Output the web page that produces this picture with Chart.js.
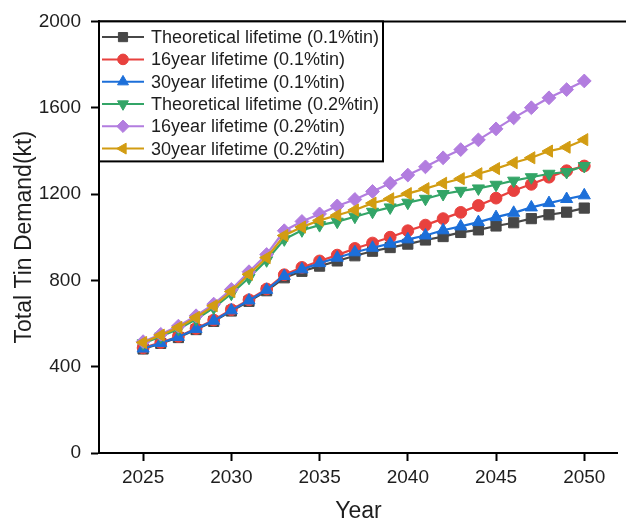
<!DOCTYPE html>
<html>
<head>
<meta charset="utf-8">
<title>Total Tin Demand</title>
<script src="https://cdn.jsdelivr.net/npm/chart.js@4.4.0/dist/chart.umd.min.js"></script>
<style>
  html, body { margin: 0; padding: 0; background: #ffffff; overflow: hidden; }
  #wrap { width: 626px; height: 519px; position: relative; }
</style>
</head>
<body>
<div id="wrap"><canvas id="chart" width="626" height="519"></canvas></div>
<script>
// Years on the horizontal axis
const years = [2025, 2026, 2027, 2028, 2029, 2030, 2031, 2032, 2033, 2034, 2035, 2036, 2037,
               2038, 2039, 2040, 2041, 2042, 2043, 2044, 2045, 2046, 2047, 2048, 2049, 2050];

// Axis tick labels
const xTickValues = [2025, 2030, 2035, 2040, 2045, 2050];
const yTickValues = [0, 400, 800, 1200, 1600, 2000];

// Total tin demand (kt), 0.1% tin content scenarios
const theoretical01 = [482, 508, 535, 572, 610, 658, 703, 752, 812, 842, 866, 890, 914,
                       935, 952, 968, 987, 1003, 1022, 1034, 1052, 1067, 1086, 1104, 1116, 1135];
const year16_01     = [487, 512, 540, 577, 616, 664, 710, 760, 826, 860, 890, 917, 948,
                       973, 1000, 1030, 1056, 1086, 1115, 1147, 1181, 1216, 1245, 1278, 1308, 1330];
const year30_01     = [484, 510, 538, 575, 613, 661, 707, 756, 820, 851, 880, 905, 930,
                       951, 970, 990, 1008, 1032, 1050, 1070, 1093, 1113, 1138, 1158, 1177, 1194];

// Total tin demand (kt), 0.2% tin content scenarios
const theoretical02 = [508, 540, 575, 620, 673, 738, 812, 893, 990, 1032, 1056, 1072, 1095,
                       1118, 1138, 1160, 1178, 1200, 1215, 1226, 1243, 1262, 1278, 1294, 1302, 1330];
const year16_02     = [516, 550, 588, 636, 690, 758, 840, 920, 1030, 1073, 1108, 1145, 1175,
                       1212, 1250, 1288, 1326, 1368, 1406, 1451, 1502, 1553, 1600, 1646, 1684, 1724];
const year30_02     = [512, 546, 582, 628, 682, 748, 828, 905, 1008, 1047, 1078, 1102, 1126,
                       1158, 1178, 1202, 1225, 1250, 1271, 1294, 1318, 1345, 1368, 1399, 1417, 1452];

const seriesNames = [
  'Theoretical lifetime (0.1%tin)',
  '16year lifetime (0.1%tin)',
  '30year lifetime (0.1%tin)',
  'Theoretical lifetime (0.2%tin)',
  '16year lifetime (0.2%tin)',
  '30year lifetime (0.2%tin)'
];

const FONT = '"Liberation Sans", Arial, Helvetica, sans-serif';
const TEXT = '#1e1e1e';

function toPoints(values) {
  return values.map((v, i) => ({ x: years[i], y: v }));
}

function makeSeries(idx, values, color, style, rotation, radius, order) {
  return {
    label: seriesNames[idx],
    data: toPoints(values),
    borderColor: color,
    backgroundColor: color,
    pointBackgroundColor: color,
    pointBorderColor: color,
    pointBorderWidth: 1,
    pointStyle: style,
    pointRotation: rotation,
    pointRadius: radius,
    borderWidth: 2.2,
    tension: 0,
    order: order
  };
}

const datasets = [
  makeSeries(0, theoretical01, '#474747', 'rect', 0, 7.2, 5),
  makeSeries(1, year16_01,     '#e8413e', 'circle', 0, 5.9, 4),
  makeSeries(2, year30_01,     '#1c6fd9', 'triangle', 0, 7.0, 3),
  makeSeries(3, theoretical02, '#33a567', 'triangle', 180, 7.0, 2),
  makeSeries(4, year16_02,     '#b27ddf', 'rectRot', 0, 6.9, 1),
  makeSeries(5, year30_02,     '#d29c12', 'triangle', -90, 7.0, 0)
];

// Frame line along the top and the boxed legend in the upper-left corner
const boxLegend = {
  id: 'boxLegend',
  afterDraw(chart) {
    const ctx = chart.ctx;
    const area = chart.chartArea;
    ctx.save();
    ctx.strokeStyle = '#000';
    ctx.lineWidth = 2;
    ctx.beginPath();
    ctx.moveTo(area.left - 1, area.top);
    ctx.lineTo(chart.width, area.top);
    ctx.stroke();

    const bx = area.left, by = area.top, bw = 284, bh = 140;
    ctx.fillStyle = '#fff';
    ctx.fillRect(bx, by, bw, bh);
    ctx.strokeRect(bx, by, bw, bh);

    ctx.font = '18px ' + FONT;
    ctx.textBaseline = 'middle';
    ctx.textAlign = 'left';
    chart.data.datasets.forEach((ds, i) => {
      const y = by + 15.7 + i * 22.3;
      ctx.strokeStyle = ds.borderColor;
      ctx.lineWidth = 2;
      ctx.beginPath();
      ctx.moveTo(bx + 3, y);
      ctx.lineTo(bx + 45, y);
      ctx.stroke();
      ctx.fillStyle = ds.pointBackgroundColor;
      ctx.strokeStyle = ds.pointBorderColor;
      ctx.lineWidth = 1;
      Chart.helpers.drawPoint(ctx, {
        pointStyle: ds.pointStyle,
        rotation: ds.pointRotation,
        radius: ds.pointRadius * 0.9,
        borderWidth: 1
      }, bx + 24, y);
      ctx.fillStyle = TEXT;
      ctx.fillText(ds.label, bx + 52, y + 1);
    });
    ctx.restore();
  }
};

new Chart(document.getElementById('chart'), {
  type: 'line',
  data: { datasets: datasets },
  plugins: [boxLegend],
  options: {
    responsive: false,
    animation: false,
    devicePixelRatio: 1,
    layout: { padding: { top: 21, right: 0, bottom: 0, left: 0 } },
    plugins: {
      legend: { display: false },
      tooltip: { enabled: false }
    },
    scales: {
      x: {
        type: 'linear',
        min: 2022.5,
        max: 2051.9,
        afterBuildTicks: (scale) => { scale.ticks = xTickValues.map(v => ({ value: v })); },
        afterFit: (scale) => { scale.height = 66; },
        grid: { display: true, drawOnChartArea: false, drawTicks: true, tickLength: 8, tickWidth: 2, tickColor: '#000' },
        border: { display: true, color: '#000', width: 2 },
        ticks: {
          padding: 5, color: TEXT, maxRotation: 0, autoSkip: false,
          font: { family: FONT, size: 19 },
          callback: (v) => String(v)
        },
        title: {
          display: true, text: 'Year', color: TEXT,
          font: { family: FONT, size: 23, lineHeight: 1 },
          padding: { top: 0, bottom: -4 }
        }
      },
      y: {
        type: 'linear',
        min: 0,
        max: 2000,
        afterBuildTicks: (scale) => { scale.ticks = yTickValues.map(v => ({ value: v })); },
        afterFit: (scale) => { scale.width = 99; },
        grid: { display: true, drawOnChartArea: false, drawTicks: true, tickLength: 8, tickWidth: 2, tickColor: '#000' },
        border: { display: true, color: '#000', width: 2 },
        ticks: {
          padding: 10, color: TEXT,
          font: { family: FONT, size: 19 },
          callback: (v) => String(v)
        },
        title: {
          display: true, text: 'Total Tin Demand(kt)', color: TEXT,
          font: { family: FONT, size: 23, lineHeight: 1 },
          padding: { top: 13, bottom: 0 }
        }
      }
    }
  }
});
</script>
</body>
</html>
